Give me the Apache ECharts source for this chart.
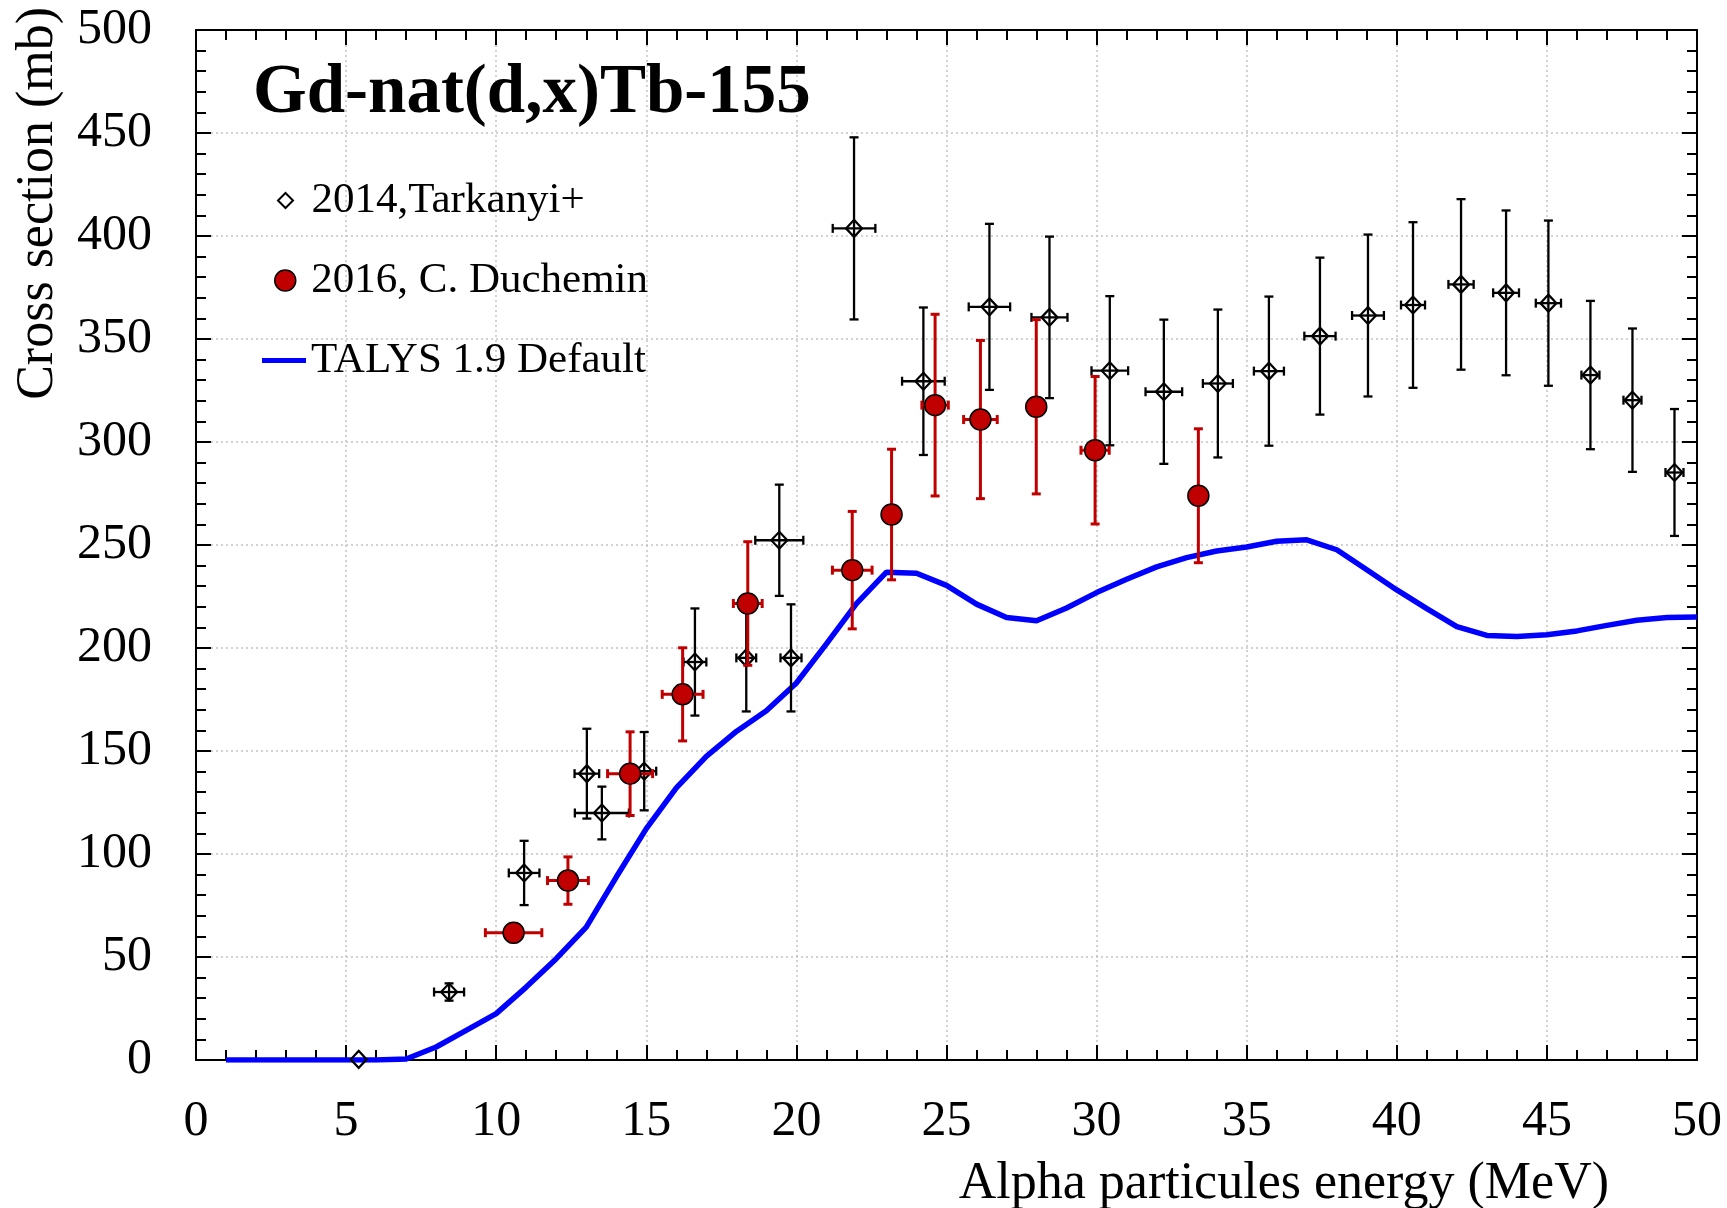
<!DOCTYPE html>
<html>
<head>
<meta charset="utf-8">
<script src="https://cdn.jsdelivr.net/npm/echarts@6/dist/echarts.min.js"></script>
<style>html,body{margin:0;padding:0;background:#fff}#c{width:1727px;height:1208px}</style>
</head>
<body>
<div id="c"></div>
<script>
// ---- Data ----
const xTicks = [0, 5, 10, 15, 20, 25, 30, 35, 40, 45, 50];
const yTicks = [0, 50, 100, 150, 200, 250, 300, 350, 400, 450, 500];

// 2014, Tarkanyi+ (energy MeV, cross section mb, energy error, cross-section error)
const tarkE  = [5.42, 8.43, 10.93, 13.02, 13.52, 14.93, 16.62, 18.33, 19.43, 19.82, 21.92, 24.23, 26.43, 28.43, 30.44, 32.24, 34.04, 35.74, 37.44, 39.04, 40.54, 42.14, 43.64, 45.05, 46.45, 47.85, 49.25];
const tarkS  = [0.3, 33.0, 90.8, 139.0, 119.9, 140.2, 193.2, 195.2, 252.3, 195.2, 403.7, 329.5, 365.6, 360.5, 334.6, 324.4, 328.4, 334.4, 351.4, 361.4, 366.5, 376.5, 372.4, 367.4, 332.5, 320.3, 285.2];
const tarkDE = [0, 0.5, 0.51, 0.41, 0.9, 0.4, 0.38, 0.33, 0.8, 0.35, 0.71, 0.71, 0.69, 0.6, 0.61, 0.61, 0.5, 0.5, 0.52, 0.53, 0.4, 0.42, 0.43, 0.42, 0.3, 0.3, 0.3];
const tarkDS = [0, 4.2, 15.6, 21.8, 12.8, 19.0, 26.0, 26.0, 27.0, 26.0, 44.2, 35.8, 40.3, 39.2, 36.2, 35.0, 35.9, 36.2, 38.1, 39.3, 40.2, 41.4, 40.0, 40.1, 36.0, 34.8, 30.8];

// 2016, C. Duchemin
const ducE  = [10.58, 12.39, 14.46, 16.21, 18.38, 21.86, 23.17, 24.62, 26.13, 27.99, 29.95, 33.39];
const ducS  = [61.8, 87.1, 139.0, 177.5, 221.6, 237.8, 264.8, 317.9, 310.9, 317.1, 296.0, 273.9];
const ducDE = [0.94, 0.68, 0.75, 0.68, 0.48, 0.66, 0.3, 0.44, 0.56, 0.3, 0.47, 0.3];
const ducDS = [4.5, 11.5, 20.3, 22.6, 30.0, 28.5, 31.7, 44.1, 38.4, 42.3, 35.8, 32.5];

// TALYS 1.9 Default
const talE = [1,2,3,4,5,6,7,8,9,10,11,12,13,14,15,16,17,18,19,20,21,22,23,24,25,26,27,28,29,30,31,32,33,34,35,36,37,38,39,40,41,42,43,44,45,46,47,48,49,50];
const talS = [0,0,0,0,0,0,0.5,6.3,14.4,22.5,35.4,49.2,64.5,88.8,112.3,132.1,147.4,159.5,169.5,183.0,202.0,221.5,236.8,236.3,230.4,221.3,214.8,213.2,219.4,226.9,233.4,239.4,243.9,247.1,249.0,251.8,252.5,247.7,238.0,228.2,219.1,210.4,206.1,205.6,206.4,208.3,211.0,213.5,214.8,215.0];

const names = ['2014,Tarkanyi+', '2016, C. Duchemin', 'TALYS 1.9 Default'];

// ---- Chart ----
const FONT = 'Liberation Serif';
const chart = echarts.init(document.getElementById('c'), null, {renderer: 'canvas', width: 1727, height: 1208});

function errRender(color, lw, cap) {
  return function (params, api) {
    const x = api.value(0), y = api.value(1), dx = api.value(2), dy = api.value(3);
    const c = api.coord([x, y]);
    const st = {stroke: color, lineWidth: lw, fill: null};
    const ch = [];
    if (dy > 0) {
      const t = api.coord([x, y + dy])[1], b = api.coord([x, y - dy])[1];
      ch.push({type: 'line', shape: {x1: c[0], y1: t, x2: c[0], y2: b}, style: st});
      ch.push({type: 'line', shape: {x1: c[0] - cap, y1: t, x2: c[0] + cap, y2: t}, style: st});
      ch.push({type: 'line', shape: {x1: c[0] - cap, y1: b, x2: c[0] + cap, y2: b}, style: st});
    }
    if (dx > 0) {
      const l = api.coord([x - dx, y])[0], r = api.coord([x + dx, y])[0];
      ch.push({type: 'line', shape: {x1: l, y1: c[1], x2: r, y2: c[1]}, style: st});
      ch.push({type: 'line', shape: {x1: l, y1: c[1] - cap, x2: l, y2: c[1] + cap}, style: st});
      ch.push({type: 'line', shape: {x1: r, y1: c[1] - cap, x2: r, y2: c[1] + cap}, style: st});
    }
    return {type: 'group', children: ch};
  };
}

const axisLine = {show: true, onZero: false, lineStyle: {color: '#000', width: 2}};
const axisTick = {show: true, inside: true, length: 15, lineStyle: {color: '#000', width: 2}};
const minorTick = {show: true, splitNumber: 5, length: 10, lineStyle: {color: '#000', width: 2}};
const gridLine = {show: true, lineStyle: {color: '#c4c4c4', width: 1.5, type: [2, 3]}};

const option = {
  backgroundColor: '#ffffff',
  animation: false,
  title: {
    text: 'Gd-nat(d,x)Tb-155',
    left: 253, top: 60, padding: 0,
    textStyle: {fontFamily: FONT, fontWeight: 'bold', fontSize: 69, color: '#000'}
  },
  legend: [
    {
      data: [{name: names[0], icon: 'path://M0,-1L1,0L0,1L-1,0Z'}],
      left: 277, top: 179, padding: 0, itemWidth: 42, itemHeight: 15, selectedMode: false,
      itemStyle: {color: 'rgba(0,0,0,0)', borderColor: '#000', borderWidth: 2},
      textStyle: {fontFamily: FONT, fontSize: 43, color: '#000'}
    },
    {
      data: [{name: names[1], icon: 'circle'}],
      left: 274, top: 259, padding: 0, itemWidth: 42, itemHeight: 21, selectedMode: false,
      itemStyle: {color: '#c00000', borderColor: '#000', borderWidth: 1.5, opacity: 1},
      textStyle: {fontFamily: FONT, fontSize: 43, color: '#000'}
    },
    {
      data: [{name: names[2], icon: 'rect'}],
      left: 262, top: 339, padding: 0, itemWidth: 44, itemHeight: 5, selectedMode: false,
      itemStyle: {color: '#0000ff', borderWidth: 0},
      textStyle: {fontFamily: FONT, fontSize: 43, color: '#000'}
    }
  ],
  grid: {left: 196, right: 30, top: 30, bottom: 148, containLabel: false, outerBoundsMode: 'none'},
  xAxis: [
    {
      type: 'value', position: 'bottom', min: xTicks[0], max: xTicks[xTicks.length - 1], interval: xTicks[1] - xTicks[0],
      name: 'Alpha particules energy (MeV)', nameLocation: 'end', nameGap: -88, nameMoveOverlap: false,
      nameTextStyle: {fontFamily: FONT, fontSize: 52, color: '#000', align: 'right', verticalAlign: 'top', padding: [98, 0, 0, 0]},
      axisLine, axisTick, minorTick,
      axisLabel: {show: true, margin: 37, fontFamily: FONT, fontSize: 50, color: '#000'},
      splitLine: gridLine, minorSplitLine: {show: false}
    },
    {
      type: 'value', position: 'top', min: xTicks[0], max: xTicks[xTicks.length - 1], interval: xTicks[1] - xTicks[0],
      axisLine, axisTick, minorTick,
      axisLabel: {show: false}, splitLine: {show: false}
    }
  ],
  yAxis: [
    {
      type: 'value', position: 'left', min: yTicks[0], max: yTicks[yTicks.length - 1], interval: yTicks[1] - yTicks[0],
      name: 'Cross section (mb)', nameLocation: 'end', nameRotate: 90, nameGap: 23, nameMoveOverlap: false,
      nameTextStyle: {fontFamily: FONT, fontSize: 52, color: '#000', align: 'right', verticalAlign: 'bottom', padding: [0, 0, 132, 0]},
      axisLine, axisTick, minorTick,
      axisLabel: {show: true, margin: 44, fontFamily: FONT, fontSize: 50, color: '#000'},
      splitLine: gridLine, minorSplitLine: {show: false}
    },
    {
      type: 'value', position: 'right', min: yTicks[0], max: yTicks[yTicks.length - 1], interval: yTicks[1] - yTicks[0],
      axisLine, axisTick, minorTick,
      axisLabel: {show: false}, splitLine: {show: false}
    }
  ],
  series: [
    {
      name: names[2], type: 'line', z: 2,
      data: talE.map((e, i) => [e, talS[i]]),
      symbol: 'none', smooth: false,
      lineStyle: {color: '#0000ff', width: 5.5},
      itemStyle: {color: '#0000ff'}
    },
    {
      name: 'tarkErr', type: 'custom', z: 3,
      data: tarkE.map((e, i) => [e, tarkS[i], tarkDE[i], tarkDS[i]]),
      encode: {x: 0, y: 1},
      renderItem: errRender('#000', 2.3, 4.5)
    },
    {
      name: names[0], type: 'scatter', z: 4,
      data: tarkE.map((e, i) => [e, tarkS[i]]),
      symbol: 'diamond', symbolSize: [16, 17],
      itemStyle: {color: 'rgba(0,0,0,0)', borderColor: '#000', borderWidth: 2.2, opacity: 1}
    },
    {
      name: 'ducErr', type: 'custom', z: 5,
      data: ducE.map((e, i) => [e, ducS[i], ducDE[i], ducDS[i]]),
      encode: {x: 0, y: 1},
      renderItem: errRender('#c00000', 3, 4.5)
    },
    {
      name: names[1], type: 'scatter', z: 6,
      data: ducE.map((e, i) => [e, ducS[i]]),
      symbol: 'circle', symbolSize: 21,
      itemStyle: {color: '#c00000', borderColor: '#000', borderWidth: 1.5, opacity: 1}
    }
  ]
};
chart.setOption(option);
</script>
</body>
</html>
